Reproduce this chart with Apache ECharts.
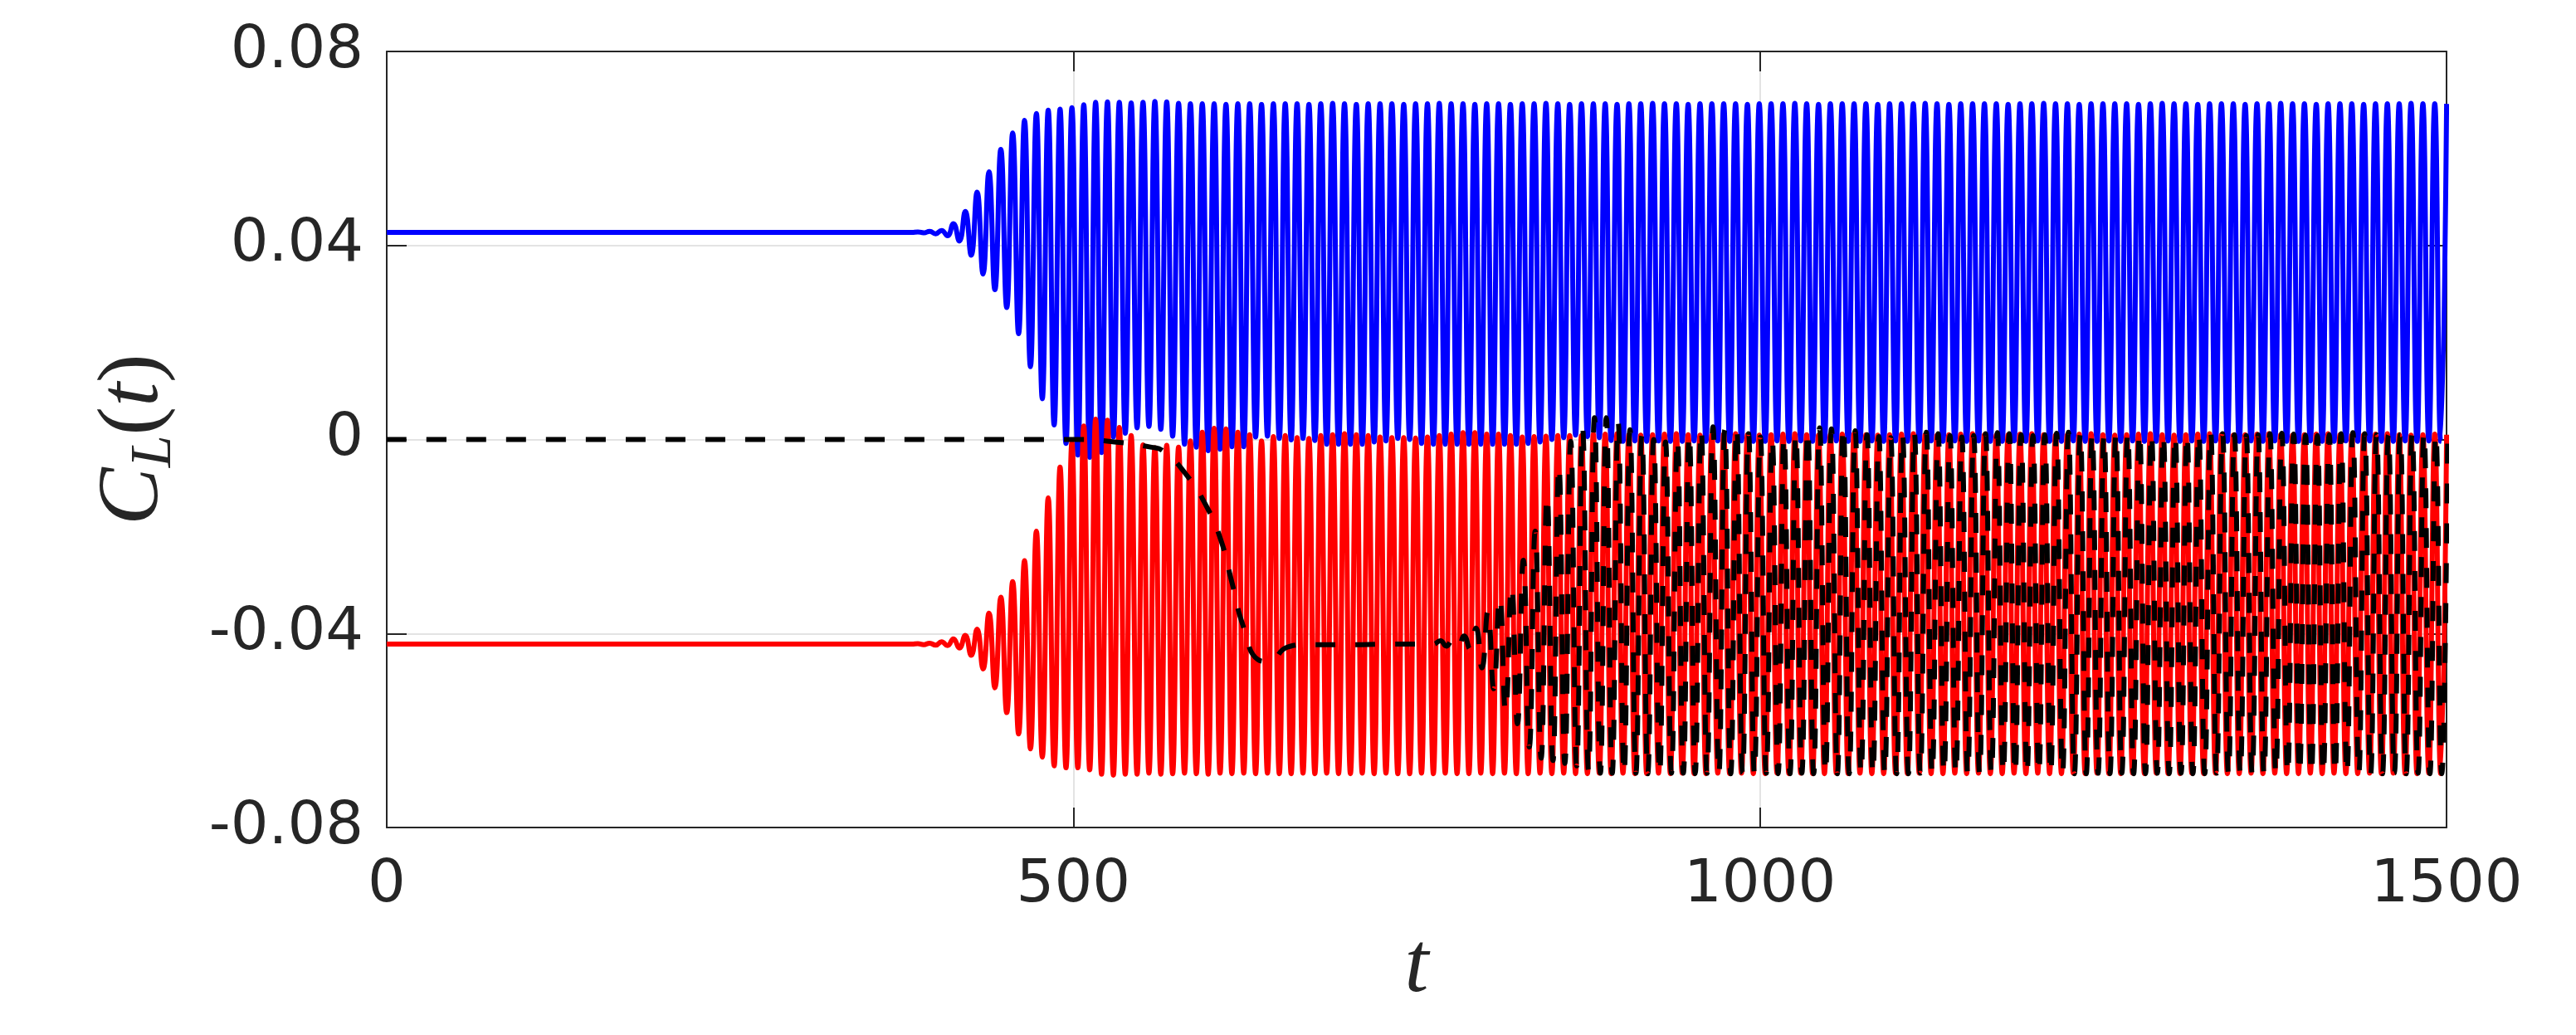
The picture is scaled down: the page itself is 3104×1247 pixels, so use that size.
<!DOCTYPE html>
<html><head><meta charset="utf-8">
<script src="https://cdn.jsdelivr.net/npm/echarts@6/dist/echarts.min.js"></script>
<style>html,body{margin:0;padding:0;background:#fff}#c{width:3104px;height:1247px}</style>
</head><body><div id="c"></div>
<script>
// ---- axis ticks ----
const xTickValues = [0, 500, 1000, 1500];
const xTickLabels = ['0', '500', '1000', '1500'];
const yTickValues = [-0.08, -0.04, 0, 0.04, 0.08];
const yTickLabels = ['-0.08', '-0.04', '0', '0.04', '0.08'];

// ---- oscillation timing ----
const oscStart = 378.15;    // time of first listed extreme (blue/red)
const halfPeriod = 4.315;   // spacing between successive extremes
const blueFlat = 0.0427;
const redFlat = -0.0422;

// blue: per-cycle maxima / minima
const bluePeaks = [
0.0427,0.0428,0.0429,0.0431,0.0445,0.0470,0.0510,0.0552,0.0598,0.0632,
0.0658,0.0672,0.0679,0.0681,0.0684,0.0690,0.0695,0.0696,0.0695,0.0694,
0.0695,0.0697,0.0696,0.0693,0.0692,0.0692,0.0692,0.0691,0.0692,0.0692,
0.0691,0.0692,0.0692,0.0692,0.0691,0.0692,0.0693,0.0692,0.0691,0.0692,
0.0692,0.0692,0.0691,0.0692,0.0692,0.0693,0.0692,0.0692,0.0691,0.0692,
0.0692,0.0691,0.0692,0.0692,0.0693,0.0692,0.0691,0.0692,0.0692,0.0692,
0.0691,0.0692,0.0692,0.0693,0.0692,0.0692,0.0691,0.0692,0.0692,0.0692,
0.0692,0.0691,0.0692,0.0692,0.0692,0.0693,0.0692,0.0691,0.0692,0.0692,
0.0692,0.0692,0.0691,0.0692,0.0692,0.0692,0.0693,0.0692,0.0691,0.0692,
0.0692,0.0692,0.0692,0.0691,0.0692,0.0692,0.0693,0.0692,0.0692,0.0691,
0.0692,0.0692,0.0692,0.0692,0.0691,0.0692,0.0693,0.0692,0.0692,0.0691,
0.0692,0.0692,0.0692,0.0691,0.0692,0.0692,0.0693,0.0692,0.0692,0.0691,
0.0692,0.0692,0.0692,0.0691,0.0692,0.0692,0.0692,0.0693,0.0692,0.0692,
0.0692];
const blueTroughs = [
0.0427,0.0426,0.0424,0.0420,0.0409,0.0380,0.0341,0.0309,0.0272,0.0218,
0.0150,0.0084,0.0030,-0.0008,-0.0032,-0.0037,-0.0027,0.0005,0.0013,0.0024,
0.0027,0.0021,0.0007,-0.0010,-0.0016,-0.0023,-0.0020,-0.0015,-0.0015,0.0005,
0.0007,0.0002,-0.0001,0.0002,-0.0002,-0.0010,-0.0010,-0.0010,-0.0010,-0.0005,
-0.0003,0.0002,0.0000,-0.0008,-0.0010,-0.0010,-0.0010,-0.0010,-0.0010,-0.0010,
-0.0010,-0.0010,-0.0008,-0.0005,0.0000,0.0004,0.0009,0.0006,0.0004,-0.0002,
-0.0004,-0.0003,-0.0004,-0.0003,-0.0004,-0.0004,-0.0003,-0.0004,-0.0003,-0.0004,
-0.0003,-0.0004,-0.0004,-0.0003,-0.0004,-0.0003,-0.0004,-0.0004,-0.0003,-0.0004,
-0.0004,-0.0003,-0.0004,-0.0003,-0.0004,-0.0004,-0.0003,-0.0004,-0.0003,-0.0004,
-0.0003,-0.0004,-0.0004,-0.0003,-0.0004,-0.0003,-0.0004,-0.0004,-0.0003,-0.0004,
-0.0004,-0.0003,-0.0004,-0.0003,-0.0004,-0.0004,-0.0003,-0.0004,-0.0003,-0.0004,
-0.0003,-0.0004,-0.0004,-0.0003,-0.0004,-0.0003,-0.0004,-0.0004,-0.0003,-0.0004,
-0.0004,-0.0003,-0.0004,-0.0003,-0.0004,-0.0004,-0.0003,-0.0004,-0.0003,-0.0004];

// red: per-cycle maxima / minima (same timing as blue)
const redPeaks = [
-0.0422,-0.0421,-0.0420,-0.0417,-0.0411,-0.0404,-0.0391,-0.0358,-0.0325,-0.0293,
-0.0250,-0.0189,-0.0120,-0.0057,-0.0006,0.0028,0.0042,0.0040,0.0025,0.0008,
-0.0011,-0.0017,-0.0012,-0.0016,-0.0003,0.0015,0.0023,0.0022,0.0015,0.0010,
-0.0003,0.0006,0.0008,0.0004,0.0002,0.0008,0.0010,0.0012,0.0010,0.0008,
0.0005,0.0004,0.0004,0.0003,0.0005,0.0008,0.0011,0.0014,0.0014,0.0011,
0.0011,0.0008,0.0005,0.0006,0.0007,0.0008,0.0008,0.0008,0.0011,0.0011,
0.0012,0.0010,0.0009,0.0010,0.0011,0.0012,0.0010,0.0009,0.0010,0.0011,
0.0012,0.0010,0.0009,0.0010,0.0011,0.0012,0.0010,0.0009,0.0010,0.0011,
0.0012,0.0010,0.0009,0.0010,0.0011,0.0012,0.0010,0.0009,0.0010,0.0011,
0.0012,0.0010,0.0009,0.0010,0.0011,0.0012,0.0010,0.0009,0.0010,0.0011,
0.0012,0.0010,0.0009,0.0010,0.0011,0.0012,0.0010,0.0009,0.0010,0.0011,
0.0012,0.0010,0.0009,0.0010,0.0011,0.0012,0.0010,0.0009,0.0010,0.0011,
0.0012,0.0010,0.0009,0.0010,0.0011,0.0012,0.0010,0.0009,0.0010,0.0011,
0.0010];
const redTroughs = [
-0.0422,-0.0423,-0.0424,-0.0425,-0.0430,-0.0445,-0.0473,-0.0512,-0.0563,-0.0607,
-0.0638,-0.0655,-0.0673,-0.0677,-0.0677,-0.0681,-0.0690,-0.0692,-0.0690,-0.0690,
-0.0688,-0.0690,-0.0689,-0.0688,-0.0689,-0.0690,-0.0688,-0.0689,-0.0688,-0.0689,
-0.0688,-0.0689,-0.0689,-0.0688,-0.0689,-0.0688,-0.0689,-0.0689,-0.0688,-0.0689,
-0.0688,-0.0689,-0.0689,-0.0688,-0.0689,-0.0688,-0.0689,-0.0689,-0.0688,-0.0689,
-0.0688,-0.0689,-0.0689,-0.0688,-0.0689,-0.0688,-0.0689,-0.0689,-0.0688,-0.0689,
-0.0688,-0.0689,-0.0689,-0.0688,-0.0689,-0.0688,-0.0689,-0.0689,-0.0688,-0.0689,
-0.0688,-0.0689,-0.0689,-0.0688,-0.0689,-0.0688,-0.0689,-0.0689,-0.0688,-0.0689,
-0.0688,-0.0689,-0.0689,-0.0688,-0.0689,-0.0688,-0.0689,-0.0689,-0.0688,-0.0689,
-0.0688,-0.0689,-0.0689,-0.0688,-0.0689,-0.0688,-0.0689,-0.0689,-0.0688,-0.0689,
-0.0688,-0.0689,-0.0689,-0.0688,-0.0689,-0.0688,-0.0689,-0.0689,-0.0688,-0.0689,
-0.0688,-0.0689,-0.0689,-0.0688,-0.0689,-0.0688,-0.0689,-0.0689,-0.0688,-0.0689,
-0.0688,-0.0689,-0.0689,-0.0688,-0.0689,-0.0688,-0.0689,-0.0689,-0.0688,-0.0689];

// black dashed: slow drift, then oscillation
const blackLeadT = [0, 500, 530, 557, 565, 581, 597, 607.5, 615.6, 623.6, 634.5, 642, 656, 670, 700, 730, 762];
const blackLeadV = [0, 0, -0.0005, -0.0016, -0.0023, -0.0068, -0.0138, -0.0208, -0.0296, -0.0384, -0.0454, -0.0458, -0.0428, -0.0423, -0.0423, -0.0422, -0.0422];
const blackOscStart = 767.3;
const blackPeaks = [
-0.0415,-0.0414,-0.0405,-0.0389,-0.0355,-0.0326,-0.0303,-0.0249,-0.0189,-0.0117,
-0.0055,-0.0004,0.0022,0.0045,0.0045,0.0035,0.0020,0.0008,0.0000,-0.0005,
0.0000,0.0010,0.0020,0.0026,0.0020,0.0024,0.0012,0.0005,0.0000,0.0005,
0.0010,0.0018,0.0024,0.0022,0.0026,0.0018,0.0010,0.0006,0.0004,0.0008,
0.0012,0.0015,0.0012,0.0008,0.0005,0.0008,0.0012,0.0014,0.0012,0.0010,
0.0008,0.0010,0.0013,0.0015,0.0012,0.0010,0.0008,0.0010,0.0012,0.0014,
0.0012,0.0009,0.0008,0.0010,0.0012,0.0014,0.0012,0.0010,0.0008,0.0010,
0.0012,0.0013,0.0011,0.0009,0.0008,0.0010,0.0012,0.0014,0.0012,0.0010,
0.0009,0.0010,0.0012,0.0013,0.0011,0.0010];
const blackTroughs = [
-0.0426,-0.0428,-0.0432,-0.0471,-0.0514,-0.0560,-0.0586,-0.0634,-0.0657,-0.0662,
-0.0668,-0.0673,-0.0682,-0.0688,-0.0688,-0.0689,-0.0688,-0.0689,-0.0689,-0.0688,
-0.0688,-0.0689,-0.0688,-0.0689,-0.0689,-0.0688,-0.0689,-0.0688,-0.0689,-0.0689,
-0.0688,-0.0689,-0.0688,-0.0689,-0.0689,-0.0688,-0.0689,-0.0688,-0.0689,-0.0689,
-0.0688,-0.0689,-0.0688,-0.0689,-0.0689,-0.0688,-0.0689,-0.0688,-0.0689,-0.0689,
-0.0688,-0.0689,-0.0688,-0.0689,-0.0689,-0.0688,-0.0689,-0.0688,-0.0689,-0.0689,
-0.0688,-0.0689,-0.0688,-0.0689,-0.0689,-0.0688,-0.0689,-0.0688,-0.0689,-0.0689,
-0.0688,-0.0689,-0.0688,-0.0689,-0.0689,-0.0688,-0.0689,-0.0688,-0.0689,-0.0689,
-0.0688,-0.0689,-0.0688,-0.0689,-0.0689];

// ---- build [t, value] pairs ----
function buildOsc(t0, peaks, troughs) {
  const out = [];
  const n = Math.max(peaks.length, troughs.length);
  for (let i = 0; i < n; i++) {
    if (i < peaks.length) out.push([t0 + 2 * i * halfPeriod, peaks[i]]);
    if (i < troughs.length) out.push([t0 + (2 * i + 1) * halfPeriod, troughs[i]]);
  }
  return out;
}
const blueData = [[0, blueFlat]].concat(buildOsc(oscStart, bluePeaks, blueTroughs));
const redData = [[0, redFlat]].concat(buildOsc(oscStart, redPeaks, redTroughs));
const blackData = blackLeadT.map((t, i) => [t, blackLeadV[i]]).concat(buildOsc(blackOscStart, blackPeaks, blackTroughs));

const INK = '#262626';
const tickFont = { fontFamily: 'DejaVu Sans', fontSize: 72, color: INK };

function yLabel(v) {
  const i = yTickValues.findIndex(x => Math.abs(x - v) < 1e-9);
  return i >= 0 ? yTickLabels[i] : '';
}
function xLabel(v) {
  const i = xTickValues.findIndex(x => Math.abs(x - v) < 1e-9);
  return i >= 0 ? xTickLabels[i] : '';
}

const chart = echarts.init(document.getElementById('c'), null, { renderer: 'canvas' });
const baseX = {
  type: 'value', min: 0, max: 1500, interval: 500,
  axisLine: { show: true, onZero: false, lineStyle: { color: INK, width: 2 } },
  axisTick: { show: true, inside: true, length: 24, lineStyle: { color: INK, width: 2 } }
};
const baseY = {
  type: 'value', min: -0.08, max: 0.08, interval: 0.04,
  axisLine: { show: true, onZero: false, lineStyle: { color: INK, width: 2 } },
  axisTick: { show: true, inside: true, length: 24, lineStyle: { color: INK, width: 2 } }
};
chart.setOption({
  animation: false,
  backgroundColor: '#ffffff',
  grid: { left: 466, top: 62, width: 2482, height: 935, containLabel: false },
  xAxis: [
    Object.assign({}, baseX, {
      position: 'bottom',
      axisLabel: Object.assign({ margin: 34, formatter: xLabel }, tickFont),
      splitLine: { show: true, lineStyle: { color: '#e3e3e3', width: 2 } },
      name: 't', nameLocation: 'middle', nameGap: 118,
      nameTextStyle: { fontFamily: 'Liberation Serif', fontStyle: 'italic', fontSize: 104, color: INK }
    }),
    Object.assign({}, baseX, { position: 'top', axisLabel: { show: false }, splitLine: { show: false } })
  ],
  yAxis: [
    Object.assign({}, baseY, {
      position: 'left',
      axisLabel: Object.assign({ margin: 28, formatter: yLabel }, tickFont),
      splitLine: { show: true, lineStyle: { color: '#e3e3e3', width: 2 } },
      name: '{c|C}{s|L}{p|(}{c|t}{p|)}', nameLocation: 'middle', nameRotate: 90, nameGap: 244,
      nameTextStyle: {
        color: INK,
        rich: {
          c: { fontFamily: 'Liberation Serif', fontStyle: 'italic', fontSize: 104, lineHeight: 120, color: INK },
          s: { fontFamily: 'Liberation Serif', fontStyle: 'italic', fontSize: 70, lineHeight: 58, verticalAlign: 'bottom', color: INK },
          p: { fontFamily: 'Liberation Serif', fontSize: 104, lineHeight: 120, color: INK }
        }
      }
    }),
    Object.assign({}, baseY, { position: 'right', axisLabel: { show: false }, splitLine: { show: false } })
  ],
  series: [
    { type: 'line', name: 'blue', data: blueData, xAxisIndex: 0, yAxisIndex: 0, smooth: true, showSymbol: false, symbol: 'none',
      lineStyle: { color: '#0000ff', width: 6 }, z: 2 },
    { type: 'line', name: 'red', data: redData, xAxisIndex: 0, yAxisIndex: 0, smooth: true, showSymbol: false, symbol: 'none',
      lineStyle: { color: '#ff0000', width: 6 }, z: 3 },
    { type: 'line', name: 'black', data: blackData, xAxisIndex: 0, yAxisIndex: 0, smooth: true, showSymbol: false, symbol: 'none',
      lineStyle: { color: '#000000', width: 6, type: [24, 24], dashOffset: 0, cap: 'butt' }, z: 4 }
  ]
});
</script>
</body></html>
